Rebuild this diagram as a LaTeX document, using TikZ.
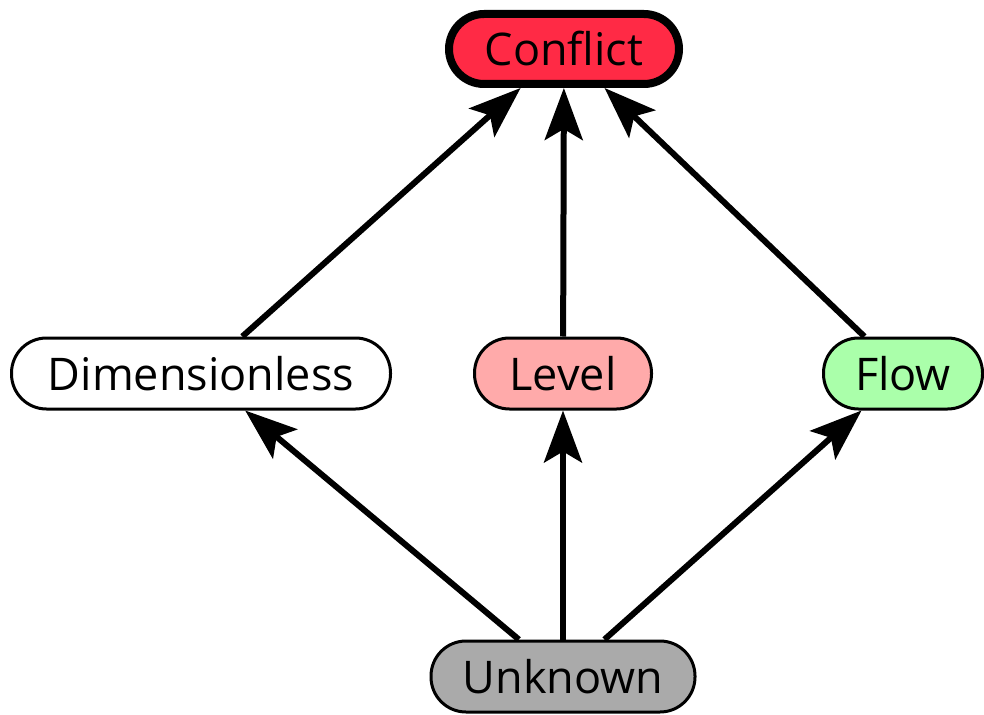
\documentclass[tikz,border=0pt]{standalone}
\usepackage{fontspec}
\setmainfont{Open Sans}
\usetikzlibrary{arrows.meta}
\definecolor{conflictred}{HTML}{FF2A45}
\definecolor{levelpink}{HTML}{FFAAAA}
\definecolor{flowgreen}{HTML}{AAFFAA}
\definecolor{unknowngray}{HTML}{AAAAAA}
\tikzset{
  kind/.style={draw=black, line width=3pt, rounded corners=35pt,
    minimum height=71pt, inner sep=0pt,
    font=\fontsize{45}{54}\selectfont},
  top/.style={kind, line width=8pt, minimum height=70pt},
  link/.style={line width=6pt,
    -{Stealth[length=52pt, width=38pt, inset=11pt]}},
}
\begin{document}
\begin{tikzpicture}[x=1pt, y=-1pt]
  \useasboundingbox (0,0) rectangle (984,714);
  \node[top, fill=conflictred, minimum width=230pt] (conflict) at (564,49) {Conflict};
  \node[kind, fill=white, minimum width=379pt] (dimless) at (201,373.5) {Dimensionless};
  \node[kind, fill=levelpink, minimum width=177pt] (level) at (563,373.5) {Level};
  \node[kind, fill=flowgreen, minimum width=159pt] (flow) at (903,373.5) {Flow};
  \node[kind, fill=unknowngray, minimum width=264pt] (unknown) at (563,676.5) {Unknown};
  \draw[link] (dimless) -- (conflict);
  \draw[link] (level) -- (conflict);
  \draw[link] (flow) -- (conflict);
  \draw[link] (unknown) -- (dimless);
  \draw[link] (unknown) -- (level);
  \draw[link] (unknown) -- (flow);
\end{tikzpicture}
\end{document}
